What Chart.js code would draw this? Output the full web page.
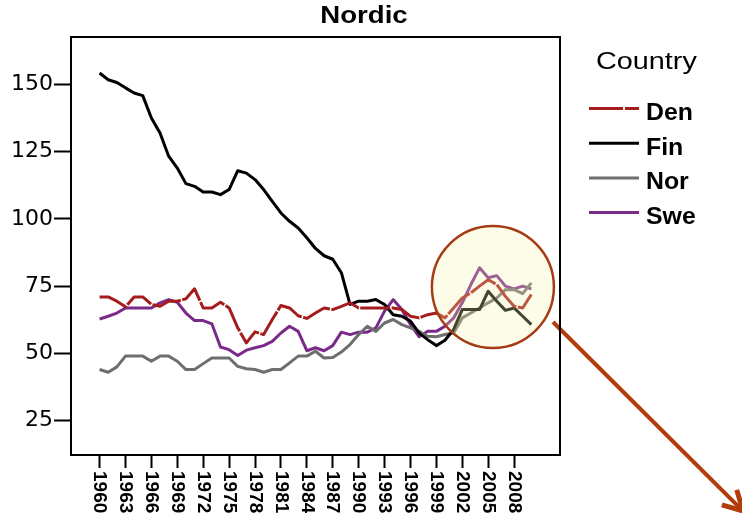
<!DOCTYPE html>
<html>
<head>
<meta charset="utf-8">
<script src="https://cdn.jsdelivr.net/npm/chart.js@4.4.1/dist/chart.umd.min.js"></script>
<style>
  html, body { margin: 0; padding: 0; background: #fff; }
  #wrap { width: 742px; height: 513px; }
</style>
</head>
<body>
<div id="wrap"><canvas id="chartNordic" width="742" height="513"></canvas></div>
<script>
// values, 1960-2010
var years = [1960, 1961, 1962, 1963, 1964, 1965, 1966, 1967, 1968, 1969,
             1970, 1971, 1972, 1973, 1974, 1975, 1976, 1977, 1978, 1979,
             1980, 1981, 1982, 1983, 1984, 1985, 1986, 1987, 1988, 1989,
             1990, 1991, 1992, 1993, 1994, 1995, 1996, 1997, 1998, 1999,
             2000, 2001, 2002, 2003, 2004, 2005, 2006, 2007, 2008, 2009, 2010];

var den = [71, 71, 69.4, 67.3, 71, 71, 68.2, 67.5, 69.4, 69.4,
           70.3, 74, 66.9, 66.9, 69, 66.9, 59.5, 53.9, 58, 57,
           62.6, 67.8, 66.9, 64, 63, 65, 66.9, 66.3, 67.5, 68.8,
           66.9, 66.9, 66.9, 66.9, 66.9, 66.3, 63.8, 63.2, 64.4, 65,
           63.2, 66.9, 70.6, 72.5, 75, 77.4, 75.6, 71.2, 67.5, 66.9, 71.9];

var fin = [154.2, 151.7, 150.7, 148.7, 146.8, 145.8, 137.5, 131.9, 123.3, 118.9,
           113.1, 112.1, 110, 110, 109, 110.9, 117.9, 117, 114.6, 110.9,
           106.5, 102.2, 99.1, 96.6, 93, 89, 86.3, 85, 80, 68.2,
           69.4, 69.4, 70, 68.2, 64.4, 63.8, 62, 57.6, 55.1, 52.9,
           54.9, 58.9, 66.3, 66.3, 66.3, 73.1, 69.4, 66, 66.9, 63.8, 60.7];

var nor = [44, 43, 45, 49, 49, 49, 47.1, 49, 49, 47.1,
           44, 44, 46.2, 48.3, 48.3, 48.3, 45.2, 44.3, 44, 43,
           44, 44, 46.5, 49, 49, 50.8, 48.3, 48.5, 50.5, 53.3,
           57, 60.1, 58.2, 61.3, 62.6, 60.7, 59.5, 58.2, 56.4, 56.2,
           57, 57.6, 63.2, 65, 66.9, 68.8, 70.6, 73.7, 73.7, 72.2, 76.2];

var swe = [62.8, 63.8, 65, 66.9, 66.9, 66.9, 66.9, 68.8, 70, 69,
           65, 62.2, 62.2, 61, 52.4, 51.4, 49.2, 51.2, 52.1, 52.9,
           54.5, 57.6, 60.1, 58.2, 51, 52.1, 51, 52.9, 57.9, 57,
           57.9, 57.9, 59.5, 65.7, 70, 66.3, 60.7, 56.2, 58.2, 58.2,
           60.1, 63.2, 68.8, 75.6, 81.8, 78.1, 78.9, 75, 74, 75, 74];

var xTicks = [1960, 1963, 1966, 1969, 1972, 1975, 1978, 1981, 1984,
              1987, 1990, 1993, 1996, 1999, 2002, 2005, 2008];
var yTicks = [25, 50, 75, 100, 125, 150];

var titleText = "Nordic";
var legendTitle = "Country";

// highlight circle (centre in data units)
var spot = { year: 2005.55, value: 74.7 };

(function () {
  var SANS = "'Liberation Sans', Arial, sans-serif";

  function pts(vals) {
    return years.map(function (y, i) { return { x: y, y: vals[i] }; });
  }

  function line(label, vals, color, dash) {
    return {
      label: label,
      data: pts(vals),
      borderColor: color,
      backgroundColor: color,
      borderWidth: 3,
      borderDash: dash || [],
      pointRadius: 0,
      tension: 0,
      borderJoinStyle: "round",
      fill: false,
    };
  }

  // the source fonts are drawn wide, so stretch sideways
  function wideText(ctx, text, x, y, sx, align) {
    ctx.save();
    ctx.translate(x, y);
    ctx.scale(sx, 1);
    ctx.textAlign = align || "left";
    ctx.fillText(text, 0, 0);
    ctx.restore();
  }

  var decor = {
    id: "decor",
    afterDatasetsDraw: function (chart) {
      var ctx = chart.ctx;
      var area = chart.chartArea;
      var xs = chart.scales.x, ys = chart.scales.y;

      // highlight circle
      var cx = xs.getPixelForValue(spot.year);
      var cy = ys.getPixelForValue(spot.value);
      ctx.save();
      ctx.beginPath();
      ctx.arc(cx, cy, 61, 0, Math.PI * 2);
      ctx.fillStyle = "rgba(245, 245, 175, 0.28)";
      ctx.fill();
      ctx.lineWidth = 2.5;
      ctx.strokeStyle = "#a63c14";
      ctx.stroke();
      ctx.restore();

      // arrow out to the corner
      var x0 = 553, y0 = 322, x1 = 743, y1 = 511;
      var ang = Math.atan2(y1 - y0, x1 - x0);
      ctx.save();
      ctx.strokeStyle = "#b33c0c";
      ctx.lineWidth = 4;
      ctx.beginPath();
      ctx.moveTo(x0, y0);
      ctx.lineTo(x1, y1);
      ctx.stroke();
      ctx.lineWidth = 5;
      ctx.beginPath();
      ctx.moveTo(x1 + 22 * Math.cos(ang + Math.PI - 0.5), y1 + 22 * Math.sin(ang + Math.PI - 0.5));
      ctx.lineTo(x1, y1);
      ctx.lineTo(x1 + 22 * Math.cos(ang + Math.PI + 0.5), y1 + 22 * Math.sin(ang + Math.PI + 0.5));
      ctx.stroke();
      ctx.restore();

      // top and right of the frame
      ctx.save();
      ctx.strokeStyle = "#000";
      ctx.lineWidth = 2;
      ctx.beginPath();
      ctx.moveTo(area.left, area.top);
      ctx.lineTo(area.right, area.top);
      ctx.lineTo(area.right, area.bottom);
      ctx.stroke();
      ctx.restore();
    },
    afterDraw: function (chart) {
      var ctx = chart.ctx;
      var xs = chart.scales.x;

      ctx.save();
      ctx.fillStyle = "#000";

      // year labels, rotated to read downwards
      ctx.font = "bold 19px " + SANS;
      xTicks.forEach(function (v) {
        var x = xs.getPixelForValue(v);
        ctx.save();
        ctx.translate(x, 471);
        ctx.rotate(Math.PI / 2);
        ctx.textAlign = "left";
        ctx.textBaseline = "middle";
        ctx.fillText(String(v), 0, 0);
        ctx.restore();
      });

      // title
      ctx.textBaseline = "alphabetic";
      ctx.font = "bold 23px " + SANS;
      wideText(ctx, titleText, 364, 23, 1.2, "center");

      // legend
      ctx.font = "24px " + SANS;
      wideText(ctx, legendTitle, 596, 69, 1.2, "left");

      ctx.font = "bold 23px " + SANS;
      chart.data.datasets.forEach(function (ds, i) {
        var y = 108.5 + i * 34.7;
        ctx.save();
        ctx.strokeStyle = ds.borderColor;
        ctx.lineWidth = 3;
        ctx.setLineDash(ds.label === "Den" ? [34, 2] : []);
        ctx.beginPath();
        ctx.moveTo(589, y);
        ctx.lineTo(639, y);
        ctx.stroke();
        ctx.restore();
        wideText(ctx, ds.label, 646, y + 11.5, 1.08, "left");
      });
      ctx.restore();
    },
  };

  var el = document.getElementById("chartNordic");
  new Chart(el, {
    type: "line",
    data: {
      datasets: [
        line("Den", den, "#a51c1c", [30, 1.5]),
        line("Fin", fin, "#000000"),
        line("Nor", nor, "#6e6e6e"),
        line("Swe", swe, "#7a2a88"),
      ],
    },
    options: {
      responsive: false,
      animation: false,
      layout: { padding: { left: 0, top: 37, right: 182, bottom: 0 } },
      plugins: {
        legend: { display: false },
        title: { display: false },
        tooltip: { enabled: false },
      },
      scales: {
        x: {
          type: "linear",
          min: 1956.69,
          max: 2013.32,
          afterBuildTicks: function (s) {
            s.ticks = xTicks.map(function (v) { return { value: v }; });
          },
          afterFit: function (s) { s.height = 58; },
          ticks: { display: false },
          grid: { drawOnChartArea: false, tickLength: 13, tickWidth: 2, tickColor: "#000" },
          border: { color: "#000", width: 2 },
        },
        y: {
          min: 12.24,
          max: 167.6,
          afterBuildTicks: function (s) {
            s.ticks = yTicks.map(function (v) { return { value: v }; });
          },
          afterFit: function (s) { s.width = 71; },
          ticks: {
            font: { family: "'DejaVu Sans', sans-serif", size: 22 },
            color: "#000",
            padding: 1,
          },
          grid: { drawOnChartArea: false, tickLength: 17, tickWidth: 2, tickColor: "#000" },
          border: { color: "#000", width: 2 },
        },
      },
    },
    plugins: [decor],
  });
})();
</script>
</body>
</html>
